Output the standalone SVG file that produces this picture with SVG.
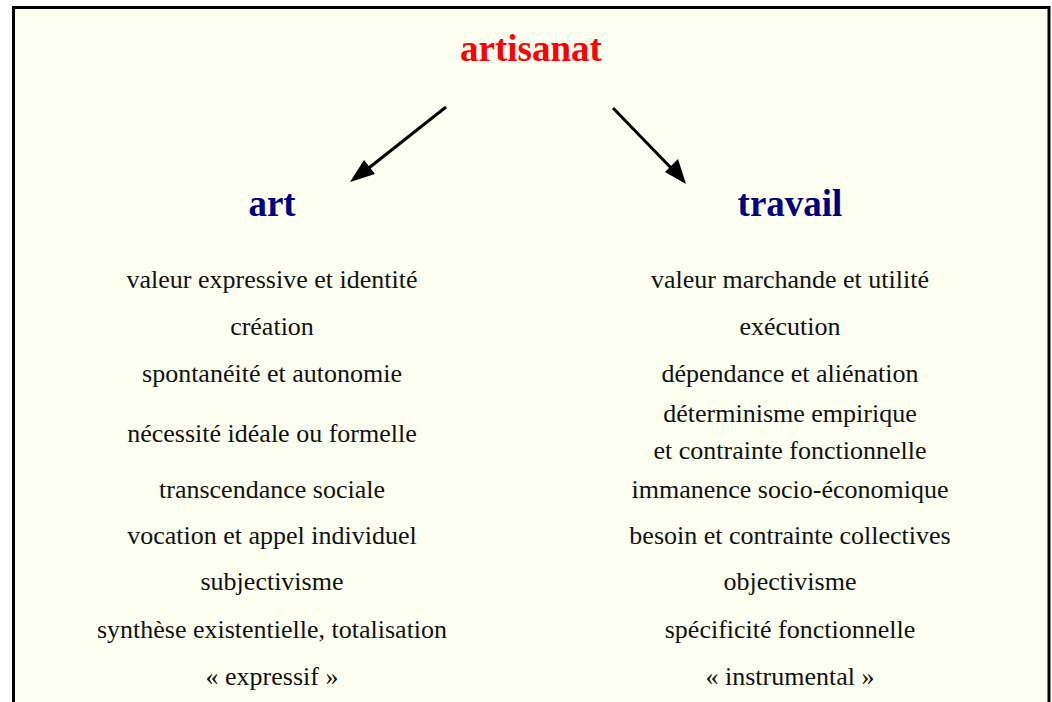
<svg xmlns="http://www.w3.org/2000/svg" width="1052" height="702" viewBox="0 0 1052 702">
<defs>
<style>
.t{font-family:"Liberation Serif","Times New Roman",serif;font-size:26px;fill:#111;text-anchor:middle}
.h{font-family:"Liberation Serif","Times New Roman",serif;font-size:37px;font-weight:bold;text-anchor:middle}
.c{stroke:#000;stroke-width:3;fill:none}
</style>
</defs>
<rect x="0" y="0" width="1052" height="702" fill="#fff"/>
<rect x="13.5" y="7.5" width="1035.5" height="710" fill="#FCFFEF" stroke="#000" stroke-width="3"/>
<g id="connectors">
<line x1="446" y1="107" x2="365" y2="171" class="c"/>
<polygon points="350,182 364,160 375,174" fill="#000"/>
<line x1="613" y1="108" x2="674" y2="171" class="c"/>
<polygon points="686,184 665,172 678,159" fill="#000"/>
</g>
<g id="artisanat"><text x="531" y="61" class="h" fill="#FF0000">artisanat</text></g>
<g id="art">
<text x="272" y="216" class="h" fill="#000080">art</text>
<text x="272" y="288" class="t">valeur expressive et identité</text>
<text x="272" y="335" class="t">création</text>
<text x="272" y="382" class="t">spontanéité et autonomie</text>
<text x="272" y="442" class="t">nécessité idéale ou formelle</text>
<text x="272" y="498" class="t">transcendance sociale</text>
<text x="272" y="544" class="t">vocation et appel individuel</text>
<text x="272" y="590" class="t">subjectivisme</text>
<text x="272" y="638" class="t">synthèse existentielle, totalisation</text>
<text x="272" y="685" class="t">« expressif »</text>
</g>
<g id="travail">
<text x="790" y="216" class="h" fill="#000080">travail</text>
<text x="790" y="288" class="t">valeur marchande et utilité</text>
<text x="790" y="335" class="t">exécution</text>
<text x="790" y="382" class="t">dépendance et aliénation</text>
<text x="790" y="422" class="t">déterminisme empirique</text>
<text x="790" y="459" class="t">et contrainte fonctionnelle</text>
<text x="790" y="498" class="t">immanence socio-économique</text>
<text x="790" y="544" class="t">besoin et contrainte collectives</text>
<text x="790" y="590" class="t">objectivisme</text>
<text x="790" y="638" class="t">spécificité fonctionnelle</text>
<text x="790" y="685" class="t">« instrumental »</text>
</g>
</svg>
